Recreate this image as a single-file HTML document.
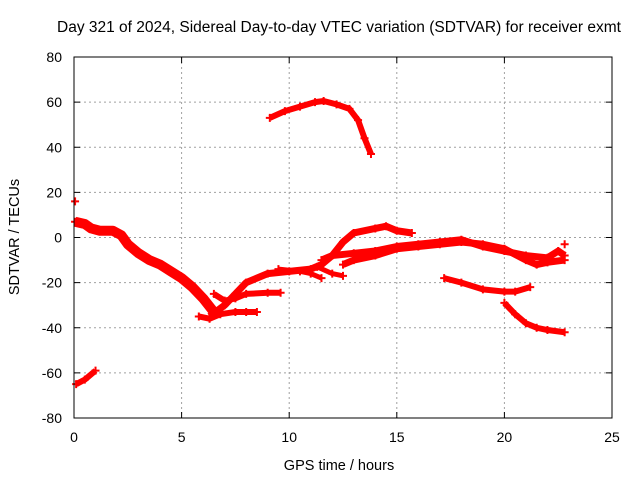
<!DOCTYPE html>
<html><head><meta charset="utf-8"><style>
body{margin:0;background:#fff;}
svg{display:block;font-family:"Liberation Sans",sans-serif;}
</style></head><body>
<svg id="chart" width="640" height="480" viewBox="0 0 640 480">
<text x="339" y="32" font-size="15.5" text-anchor="middle">Day 321 of 2024, Sidereal Day-to-day VTEC variation (SDTVAR) for receiver exmt</text>
<text x="339" y="470" font-size="14.5" text-anchor="middle">GPS time / hours</text>
<text transform="translate(19,237) rotate(-90)" font-size="14.5" text-anchor="middle">SDTVAR / TECUs</text>
<g id="grid"></g>
<g id="ticks"></g>
<g id="marks"></g>
<rect x="74" y="57" width="538" height="361" fill="none" stroke="#000" stroke-width="1"/>
</svg>
<script>
const xTicks=[0,5,10,15,20,25];
const yTicks=[80,60,40,20,0,-20,-40,-60,-80];
const s1h=[9.1,9.8,10.5,11.2,11.6,12.2,12.8,13.2,13.5,13.8];
const s1v=[53,56,58,60,60.5,59,57,52,44,37];
const s2h=[0.05,0.5,0.8,1.2,1.8,2.2,2.5,3,3.5,4,4.5,5,5.5,6,6.5];
const s2v=[7,6,4,3,3,1,-3,-7,-10,-12,-15,-18,-22,-27,-33];
const s3h=[6.3,7,7.5,8,9,10,11,11.5,12,12.5,13,14,14.5,15,15.7];
const s3v=[-35,-30,-25,-20,-16,-15,-14,-12,-8,-2,2,4,5,3,2];
const s4h=[11.5,12,13,14,15,16,17,18,19,20,21,22,22.5,22.8];
const s4v=[-10,-8,-7,-6,-4,-3,-2,-1,-4,-6,-8,-9,-6,-8];
const s5h=[12.5,13,14,15,16,17,18,19,20,21,21.5,22,22.8];
const s5v=[-12,-10,-8,-5,-4,-3,-2,-3,-5,-10,-12,-11,-10];
const s6h=[17.2,18,19,20,20.5,21.2];
const s6v=[-18,-20,-23,-24,-24,-22];
const s7h=[20,20.5,21,21.5,22,22.8];
const s7v=[-29,-34,-38,-40,-41,-42];
const s8h=[0.1,0.5,1];
const s8v=[-65,-63,-59];
const s9h=[5.8,6.3,6.8,7.5,8,8.5];
const s9v=[-35,-36,-34,-33,-33,-33];
const s10h=[6.5,7,7.5,8,9,9.6];
const s10v=[-25,-28,-27,-25,-24.5,-24.5];
const s11h=[9.5,10.5,11,11.5];
const s11v=[-14,-15,-16,-18];
const s12h=[11.3,12,12.5];
const s12v=[-13,-16,-17];
const ptH=[0.05,22.8];
const ptV=[16,-3];
const series=[[s1h,s1v,6],[s2h,s2v,10],[s3h,s3v,7],[s4h,s4v,7],[s5h,s5v,7],[s6h,s6v,6],[s7h,s7v,6],[s8h,s8v,6],[s9h,s9v,6],[s10h,s10v,6],[s11h,s11v,5],[s12h,s12v,5]];
const X=h=>74+h*538/25;
const Y=v=>237.5-v*361/160;
const NS="http://www.w3.org/2000/svg";
const grid=document.getElementById('grid'),ticks=document.getElementById('ticks'),marks=document.getElementById('marks');
function mk(t,a,p){const e=document.createElementNS(NS,t);for(const k in a)e.setAttribute(k,a[k]);p.appendChild(e);return e;}
xTicks.forEach(t=>{const x=X(t);
 if(t>0&&t<25){const g=mk('line',{x1:x,x2:x,y1:57,y2:418,stroke:'#a0a0a0','stroke-dasharray':'2,3'},grid);
 
 }
 mk('line',{x1:x,x2:x,y1:418,y2:412,stroke:'#000'},ticks);mk('line',{x1:x,x2:x,y1:57,y2:63,stroke:'#000'},ticks);
 const l=mk('text',{x:x,y:442,'font-size':14,'text-anchor':'middle'},ticks);l.textContent=t;
 
 });
yTicks.forEach(t=>{const y=Y(t);
 if(t>-80&&t<80){const g=mk('line',{x1:74,x2:612,y1:y,y2:y,stroke:'#a0a0a0','stroke-dasharray':'2,3'},grid);
 
 }
 mk('line',{x1:74,x2:80,y1:y,y2:y,stroke:'#000'},ticks);mk('line',{x1:612,x2:606,y1:y,y2:y,stroke:'#000'},ticks);
 const l=mk('text',{x:62,y:y+5,'font-size':14,'text-anchor':'end'},ticks);l.textContent=t;
 
 });
series.forEach(([hs,vs,w])=>{const pts=hs.map((h,i)=>X(h)+','+Y(vs[i])).join(' ');
 const p=mk('polyline',{points:pts,fill:'none',stroke:'#ff0000','stroke-width':w,'stroke-linejoin':'round','stroke-linecap':'butt'},marks);
 
 
 hs.forEach((h,i)=>{const x=X(h),y=Y(vs[i]);
  mk('path',{d:`M${x-4},${y}H${x+4}M${x},${y-4}V${y+4}`,stroke:'#ff0000','stroke-width':2},marks);});});
ptH.forEach((h,i)=>{const x=X(h),y=Y(ptV[i]);
 const p=mk('path',{d:`M${x-4},${y}H${x+4}M${x},${y-4}V${y+4}`,stroke:'#ff0000','stroke-width':2},marks);
 
 });
</script>
</body></html>
